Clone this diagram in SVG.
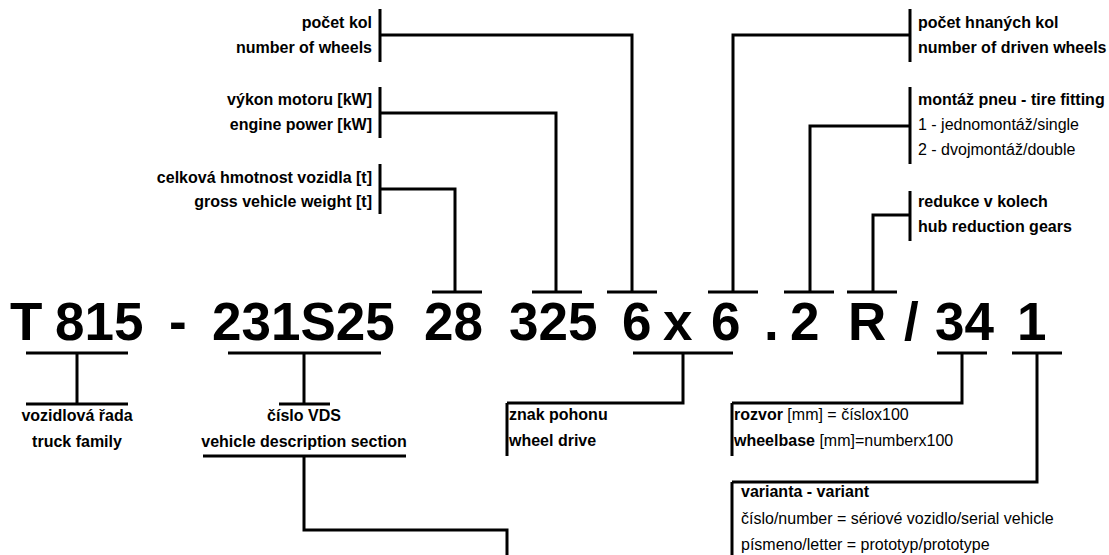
<svg xmlns="http://www.w3.org/2000/svg" width="1109" height="555" viewBox="0 0 1109 555">
<style>
.l{stroke:#000;stroke-width:3;fill:none;stroke-linecap:butt;stroke-linejoin:miter}
.b{font-family:"Liberation Sans",Arial,sans-serif;font-weight:bold;font-size:16px;fill:#000}
.n{font-family:"Liberation Sans",Arial,sans-serif;font-weight:normal;font-size:16px;fill:#000}
.big{font-family:"Liberation Sans",Arial,sans-serif;font-weight:bold;font-size:53px;fill:#000}
.r{text-anchor:end}
.m{text-anchor:middle}
</style>
<rect width="1109" height="555" fill="#fff"/>
<g id="code">
<text class="big" x="10" y="340">T</text>
<text class="big" x="55" y="340">815</text>
<text class="big" x="169" y="340">-</text>
<text class="big" x="212" y="340">231S25</text>
<text class="big" x="424" y="340">28</text>
<text class="big" x="509" y="340">325</text>
<text class="big" x="622" y="340">6</text>
<text class="big" x="663" y="340">x</text>
<text class="big" x="711" y="340">6</text>
<text class="big" x="764" y="340">.</text>
<text class="big" x="790" y="340">2</text>
<text class="big" x="848" y="340">R</text>
<text class="big" x="904" y="340">/</text>
<text class="big" x="935" y="340">34</text>
<text class="big" x="1017" y="340">1</text>
</g>
<g id="n-pocet-kol">
<path class="l" d="M380 9V62"/>
<text class="b r" x="372" y="28">počet kol</text>
<text class="b r" x="372" y="53">number of wheels</text>
</g>
<g id="n-vykon">
<path class="l" d="M380 87V138"/>
<text class="b r" x="372" y="105">výkon motoru [kW]</text>
<text class="b r" x="372" y="130">engine power [kW]</text>
</g>
<g id="n-hmotnost">
<path class="l" d="M380 164V214"/>
<text class="b r" x="372" y="183">celková hmotnost vozidla [t]</text>
<text class="b r" x="372" y="207">gross vehicle weight [t]</text>
</g>
<g id="n-hnane">
<path class="l" d="M910 9V62"/>
<text class="b" x="918" y="28">počet hnaných kol</text>
<text class="b" x="918" y="53">number of driven wheels</text>
</g>
<g id="n-montaz">
<path class="l" d="M910 87V164"/>
<text class="b" x="918" y="105">montáž pneu - tire fitting</text>
<text class="n" x="918" y="130">1 - jednomontáž/single</text>
<text class="n" x="918" y="155">2 - dvojmontáž/double</text>
</g>
<g id="n-redukce">
<path class="l" d="M910 191V241"/>
<text class="b" x="918" y="207">redukce v kolech</text>
<text class="b" x="918" y="232">hub reduction gears</text>
</g>
<g id="n-rada">
<path class="l" d="M26 404H128"/>
<text class="b m" x="77" y="421">vozidlová řada</text>
<text class="b m" x="77" y="447">truck family</text>
</g>
<g id="n-vds">
<path class="l" d="M279 404H330"/>
<text class="b m" x="304" y="421">číslo VDS</text>
<text class="b m" x="304" y="447">vehicle description section</text>
<path class="l" d="M203 456H406"/>
</g>
<g id="n-pohon">
<path class="l" d="M507 403V456"/>
<text class="b" x="509" y="420">znak pohonu</text>
<text class="b" x="509" y="446">wheel drive</text>
</g>
<g id="n-rozvor">
<path class="l" d="M732 403V456"/>
<text class="n" x="734" y="420"><tspan font-weight="bold">rozvor</tspan> [mm] = číslox100</text>
<text class="n" x="734" y="446"><tspan font-weight="bold">wheelbase</tspan> [mm]=numberx100</text>
</g>
<g id="n-varianta">
<path class="l" d="M732 482V555"/>
<text class="b" x="741" y="497">varianta - variant</text>
<text class="n" x="741" y="524">číslo/number = sériové vozidlo/serial vehicle</text>
<text class="n" x="741" y="550">písmeno/letter = prototyp/prototype</text>
</g>
<g id="connectors">
<path class="l" d="M380 35H632V292M607 292H657"/>
<path class="l" d="M380 113H556V292M532 292H582"/>
<path class="l" d="M380 189H455V292M432 292H482"/>
<path class="l" d="M910 35H733V292M708 292H758"/>
<path class="l" d="M910 126H810V292M784 292H834"/>
<path class="l" d="M910 215H873V292M847 292H897"/>
<path class="l" d="M26 353H128M77 353V404"/>
<path class="l" d="M228 353H381M304 353V404"/>
<path class="l" d="M304 456V530H507V555"/>
<path class="l" d="M633 353H733M683 353V403H507"/>
<path class="l" d="M937 353H987M962 353V403H732"/>
<path class="l" d="M1012 353H1062M1037 353V482H732"/>
</g>
</svg>
